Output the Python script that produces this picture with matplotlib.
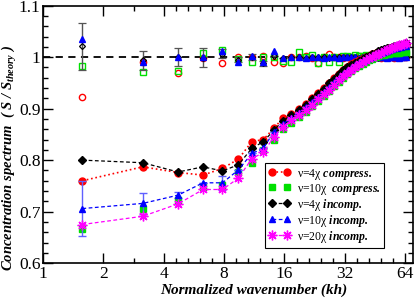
import numpy as np
import matplotlib.pyplot as plt
from matplotlib.ticker import FixedLocator, FixedFormatter, MultipleLocator

plt.rcParams['font.family'] = ['Liberation Serif', 'DejaVu Serif']
plt.rcParams['mathtext.fontset'] = 'custom'
plt.rcParams['mathtext.rm'] = 'Liberation Serif'
plt.rcParams['mathtext.it'] = 'Liberation Serif:italic:bold'
plt.rcParams['mathtext.bf'] = 'Liberation Serif:italic:bold'

# wavenumbers (kh)
kh = [1.57, 3.14, 4.71, 6.28, 7.85, 9.42, 11.0, 12.57, 14.14, 15.71,
      17.28, 18.85, 20.42, 21.99, 23.56, 25.13, 26.7, 28.27, 29.85, 31.42,
      32.99, 34.56, 36.13, 37.7, 39.27, 40.84, 42.41, 43.98, 45.55, 47.12,
      48.69, 50.27, 51.84, 53.41, 54.98, 56.55, 58.12, 59.69, 61.26, 62.83, 64.4]

# raw spectra
red_lo = [0.760, 0.787, 0.776, 0.771, 0.784, 0.802, 0.836, 0.840, 0.862, 0.881,
          0.889, 0.899, 0.909, 0.920, 0.930, 0.940, 0.950, 0.959, 0.968, 0.976,
          0.981, 0.986, 0.990, 0.994, 0.997, 1.000, 1.003, 1.006, 1.008, 1.010,
          1.012, 1.014, 1.016, 1.017, 1.018, 1.019, 1.020, 1.021, 1.022, 1.023, 1.024]
green_lo = [0.667, 0.706, 0.722, 0.748, 0.752, 0.777, 0.794, 0.820, 0.839, 0.860,
            0.872, 0.883, 0.894, 0.905, 0.915, 0.925, 0.935, 0.944, 0.952, 0.960,
            0.967, 0.973, 0.978, 0.983, 0.987, 0.991, 0.994, 0.997, 1.000, 1.002,
            1.004, 1.005, 1.006, 1.007, 1.008, 1.008, 1.009, 1.009, 1.010, 1.010, 1.010]
black_lo = [0.800, 0.795, 0.777, 0.787, 0.779, 0.791, 0.823, 0.836, 0.858, 0.876,
            0.888, 0.897, 0.908, 0.918, 0.929, 0.939, 0.949, 0.958, 0.967, 0.975,
            0.980, 0.985, 0.989, 0.993, 0.997, 1.000, 1.003, 1.006, 1.009, 1.011,
            1.013, 1.015, 1.017, 1.018, 1.020, 1.021, 1.022, 1.023, 1.024, 1.026, 1.027]
blue_lo = [0.706, 0.716, 0.732, 0.756, 0.756, 0.781, 0.813, 0.823, 0.855, 0.870,
           0.882, 0.892, 0.903, 0.913, 0.923, 0.933, 0.942, 0.951, 0.960, 0.968,
           0.974, 0.979, 0.984, 0.988, 0.992, 0.995, 0.998, 1.001, 1.004, 1.006,
           1.008, 1.010, 1.012, 1.014, 1.015, 1.017, 1.018, 1.019, 1.020, 1.021, 1.022]
blue_lo_err = [0.054, 0.021, 0.006, 0.0, 0.014, 0.0, 0.0, 0.0, 0.0, 0.0,
               0.0, 0.0, 0.0, 0.0, 0.0, 0.0, 0.0, 0.0, 0.0, 0.0,
               0.0, 0.0, 0.0, 0.0, 0.0, 0.0, 0.0, 0.0, 0.0, 0.0,
               0.0, 0.0, 0.0, 0.0, 0.0, 0.0, 0.0, 0.0, 0.0, 0.0, 0.0]
mag_lo = [0.675, 0.691, 0.715, 0.743, 0.743, 0.765, 0.803, 0.815, 0.845, 0.865,
          0.877, 0.887, 0.898, 0.908, 0.918, 0.928, 0.937, 0.946, 0.955, 0.963,
          0.970, 0.976, 0.981, 0.986, 0.990, 0.994, 0.998, 1.001, 1.004, 1.007,
          1.009, 1.012, 1.014, 1.016, 1.018, 1.020, 1.021, 1.023, 1.024, 1.025, 1.027]

# corrected spectra (near 1)
red_up = [0.923, 0.990, 0.969, 0.998, 0.989, 1.000, 1.001, 1.003, 0.991, 0.988,
          1.000, 1.001, 1.002, 0.999, 0.989, 1.000, 1.006, 1.000, 1.001, 0.999,
          1.001, 1.000, 0.999, 1.002, 1.000, 1.001, 0.999, 1.000, 1.001, 1.000,
          0.999, 1.000, 1.001, 1.000, 1.000, 0.999, 1.000, 1.001, 1.000, 1.000, 1.000]
green_up = [0.982, 0.972, 0.974, 1.008, 1.013, 0.997, 0.991, 1.000, 1.000, 0.993,
            0.990, 1.010, 1.000, 1.004, 0.989, 1.000, 0.991, 1.000, 0.991, 1.002,
            1.003, 1.001, 1.004, 1.002, 1.003, 1.005, 1.003, 1.004, 1.002, 1.004,
            1.005, 1.003, 1.004, 1.005, 1.004, 1.006, 1.005, 1.006, 1.007, 1.006, 1.007]
black_up = [1.021, 0.994, 1.000, 0.999, 1.007, 0.995, 1.000, 0.988, 1.003, 0.998,
            1.000, 1.001, 0.999, 1.000, 1.001, 1.000, 0.999, 1.000, 1.001, 1.000,
            1.000, 1.001, 1.000, 0.999, 1.000, 1.000, 1.001, 1.000, 1.000, 0.999,
            1.000, 1.000, 1.001, 1.000, 1.000, 1.000, 0.999, 1.000, 1.000, 1.000, 1.000]
black_up_err = [0.045, 0.018, 0.018, 0.019, 0.009, 0.005, 0.006, 0.005, 0.0, 0.0,
                0.0, 0.0, 0.0, 0.0, 0.0, 0.0, 0.0, 0.0, 0.0, 0.0,
                0.0, 0.0, 0.0, 0.0, 0.0, 0.0, 0.0, 0.0, 0.0, 0.0,
                0.0, 0.0, 0.0, 0.0, 0.0, 0.0, 0.0, 0.0, 0.0, 0.0, 0.0]
blue_up = [1.035, 0.991, 1.000, 1.000, 1.012, 0.991, 1.002, 0.991, 1.011, 0.999,
           1.000, 1.000, 0.998, 1.001, 1.000, 0.999, 1.001, 1.000, 0.999, 1.001,
           1.000, 1.000, 1.001, 0.999, 1.000, 1.001, 1.000, 0.999, 1.000, 1.001,
           1.000, 1.000, 0.999, 1.000, 1.001, 1.000, 1.000, 0.999, 1.000, 1.000, 1.000]

xticks = [1, 2, 4, 8, 16, 32, 64]
yticks = [0.6, 0.7, 0.8, 0.9, 1.0, 1.1]
ytick_labels = ['0.6', '0.7', '0.8', '0.9', '1', '1.1']

labels = [u'\u03bd=4\u03c7 $\\mathbf{compress.}$',
          u'\u03bd=10\u03c7  $\\mathbf{compress.}$',
          u'\u03bd=4\u03c7 $\\mathbf{incomp.}$',
          u'\u03bd=10\u03c7 $\\mathbf{incomp.}$',
          u'\u03bd=20\u03c7 $\\mathbf{incomp.}$']

RED, GREEN, BLUE, MAG = '#ff0000', '#00e000', '#0000ff', '#ff00ff'

fig = plt.figure(figsize=(4.15, 2.98), dpi=100)
ax = fig.add_axes([0.104, 0.117, 0.891, 0.864])
ax.set_xscale('log', base=2)

ax.axhline(1.0, color='black', ls=(0, (4, 3)), lw=1.3, zorder=1)

# corrected sets
ax.plot(kh, red_up, 'o', ms=4.5, mfc='none', mec=RED, mew=1.0, zorder=3)
ax.plot(kh, green_up, 's', ms=4.5, mfc='none', mec=GREEN, mew=1.0, zorder=3)
ax.errorbar(kh, black_up, yerr=black_up_err, fmt='D', ms=3, mfc='none', mec='black',
            mew=0.9, ecolor='#555555', elinewidth=1.0, capsize=3, capthick=1.0, zorder=3)
ax.plot(kh, blue_up, '^', ms=5, color=BLUE, mec=BLUE, zorder=4)

# raw sets
h1, = ax.plot(kh, red_lo, 'o', ls=':', lw=1.2, color=RED, ms=5, zorder=5, label=labels[0])
h2, = ax.plot(kh, green_lo, 's', ls='none', color=GREEN, ms=4, zorder=5, label=labels[1])
h3, = ax.plot(kh, black_lo, 'D', ls=(0, (3, 2)), lw=0.9, color='black', ms=4.5, zorder=6,
              label=labels[2])
ax.errorbar(kh, blue_lo, yerr=blue_lo_err, fmt='^', ls=(0, (3, 2)), lw=0.9, color=BLUE,
            ms=5, ecolor='#6060ff', elinewidth=1.0, capsize=3, capthick=1.0, zorder=6)
h4, = ax.plot([], [], '^', ls=(0, (3, 2)), lw=0.9, color=BLUE, ms=5, label=labels[3])
h5, = ax.plot(kh, mag_lo, marker=(8, 2, 0), ls=(0, (3, 2)), lw=0.9, color=MAG, ms=7, mew=1.0,
              zorder=7, label=labels[4])

ax.set_xlim(1, 70)
ax.set_ylim(0.6, 1.1)
ax.xaxis.set_major_locator(FixedLocator(xticks))
ax.xaxis.set_major_formatter(FixedFormatter([str(t) for t in xticks]))
minor = [2 ** 1.5] + [2 ** (k + j / 5) for k in range(2, 6) for j in range(1, 5)]
ax.xaxis.set_minor_locator(FixedLocator(minor))
ax.xaxis.set_minor_formatter(FixedFormatter([''] * len(minor)))
ax.yaxis.set_major_locator(FixedLocator(yticks))
ax.yaxis.set_major_formatter(FixedFormatter(ytick_labels))
ax.yaxis.set_minor_locator(MultipleLocator(0.02))

ax.tick_params(which='both', direction='in', top=True, right=True, width=1.0)
ax.tick_params(which='major', length=7, labelsize=12.5, pad=2)
ax.tick_params(which='minor', length=3.5)
for s in ax.spines.values():
    s.set_linewidth(1.2)

ax.set_xlabel('Normalized wavenumber (kh)', fontsize=11, fontweight='bold', style='italic')
ax.xaxis.set_label_coords(0.57, -0.08)
ax.set_ylabel(r'Concentration spectrum  ( $S$ / $S_{theory}$ )', fontsize=10.5,
              fontweight='bold', style='italic')
ax.yaxis.set_label_coords(-0.066, 0.41)

leg = ax.legend(handles=[h1, h2, h3, h4, h5], loc='upper left', bbox_to_anchor=(0.6, 0.389),
                borderaxespad=0, numpoints=2, fontsize=8.5, handlelength=1.9, handletextpad=0.5,
                labelspacing=0.0, borderpad=0.3, handleheight=0.7, fancybox=False,
                framealpha=1, edgecolor='black')
leg.get_frame().set_linewidth(0.8)

plt.savefig('out.png', dpi=100)
